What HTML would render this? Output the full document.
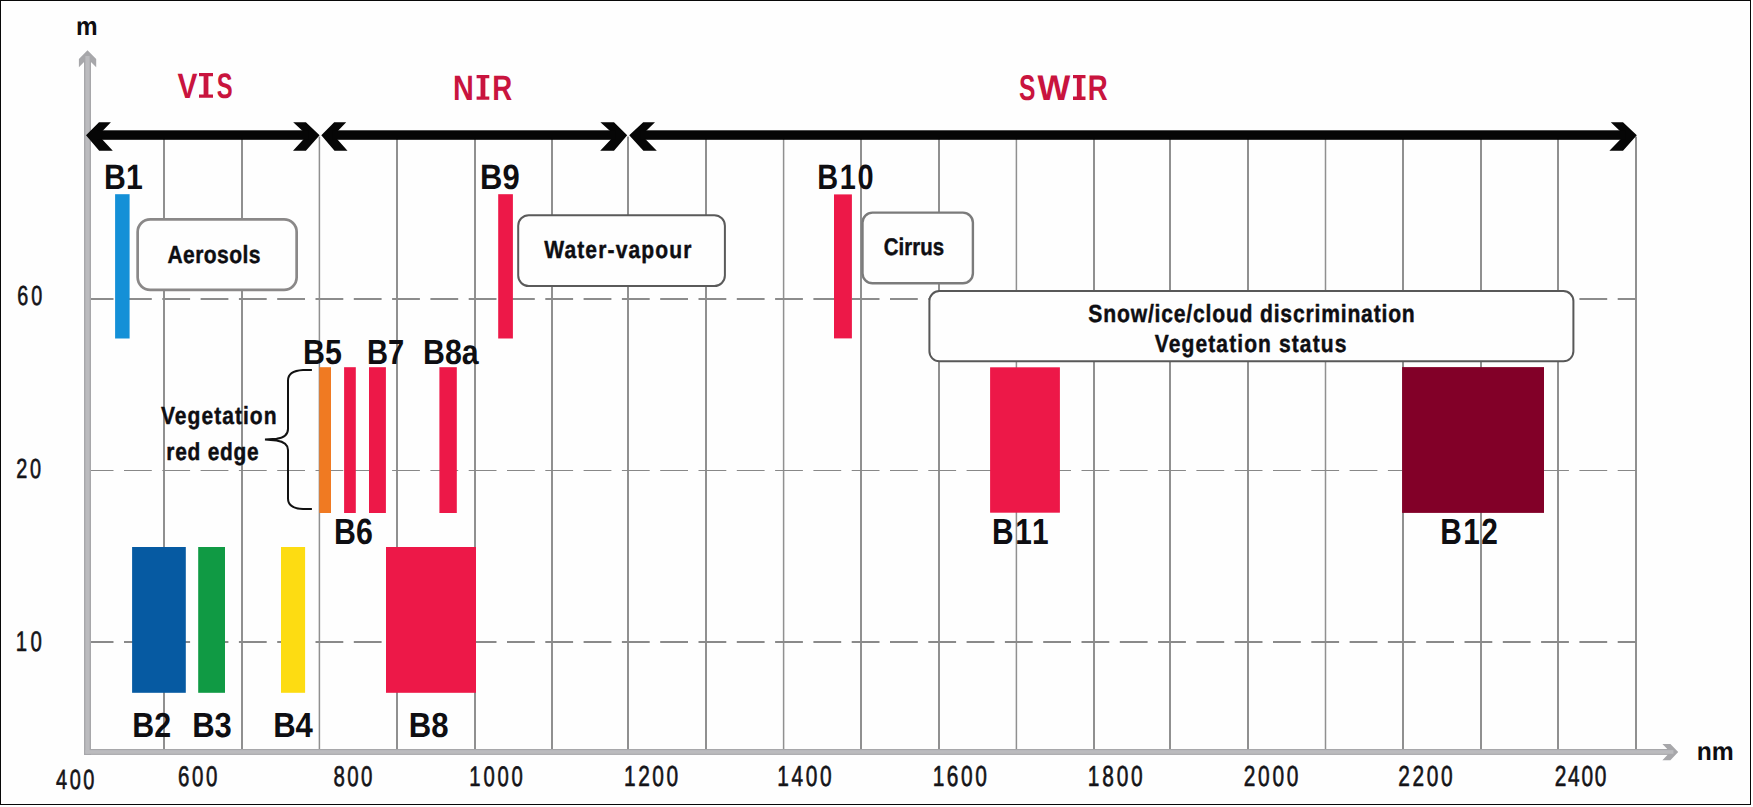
<!DOCTYPE html>
<html lang="en"><head><meta charset="utf-8"><title>Sentinel-2 spectral bands</title>
<style>html,body{margin:0;padding:0;background:#fff;}body{width:1753px;height:807px;overflow:hidden;position:relative;font-family:"Liberation Sans", sans-serif;}</style></head>
<body>
<svg width="1753" height="807" viewBox="0 0 1753 807" style="position:absolute;left:0;top:0;display:block" text-rendering="geometricPrecision" font-family='"Liberation Sans", sans-serif'>
<rect x="0" y="0" width="1753" height="807" fill="#fff"/>
<rect x="0.5" y="0.5" width="1750" height="804" fill="#fefefe" stroke="#080808" stroke-width="1.1" shape-rendering="crispEdges"/>
<g fill="#909090">
<rect x="163" y="136.6" width="2" height="613.4"/>
<rect x="241" y="136.6" width="2" height="613.4"/>
<rect x="318.65" y="136.6" width="1.5" height="613.4"/>
<rect x="396" y="136.6" width="2" height="613.4"/>
<rect x="474" y="136.6" width="2" height="613.4"/>
<rect x="551" y="136.6" width="2" height="613.4"/>
<rect x="627" y="136.6" width="2" height="613.4"/>
<rect x="705" y="136.6" width="2" height="613.4"/>
<rect x="782.85" y="136.6" width="1.5" height="613.4"/>
<rect x="860" y="136.6" width="2" height="613.4"/>
<rect x="938" y="136.6" width="2" height="613.4"/>
<rect x="1015.65" y="136.6" width="1.5" height="613.4"/>
<rect x="1093" y="136.6" width="2" height="613.4"/>
<rect x="1169" y="136.6" width="2" height="613.4"/>
<rect x="1247" y="136.6" width="2" height="613.4"/>
<rect x="1324.75" y="136.6" width="1.5" height="613.4"/>
<rect x="1402" y="136.6" width="2" height="613.4"/>
<rect x="1480" y="136.6" width="2" height="613.4"/>
<rect x="1557" y="136.6" width="2" height="613.4"/>
<rect x="1635" y="136.6" width="2" height="613.4"/>
</g>
<line x1="85.7" y1="299.0" x2="1636" y2="299.0" stroke="#8c8c8c" stroke-width="2" stroke-dasharray="27.8 10.5"/>
<line x1="85.7" y1="470.55" x2="1636" y2="470.55" stroke="#888888" stroke-width="1.1" stroke-dasharray="27.8 10.5"/>
<line x1="85.7" y1="642.0" x2="1636" y2="642.0" stroke="#8a8a8a" stroke-width="2" stroke-dasharray="27.8 10.5"/>
<g fill="#a7a7aa">
<rect x="84" y="54" width="7" height="700.9"/>
<rect x="84" y="749" width="1590" height="5.9"/>
<polygon points="87.5,50.2 96.2,59 96.2,67.2 87.5,58.6 78.9,67.2 78.9,59"/>
<polygon points="1678.2,752 1670.4,744 1662.4,744 1670.2,752 1662.4,760.3 1670.4,760.3"/>
</g>
<g fill="#bbbbbe">
<rect x="85.4" y="56" width="4.2" height="697.6"/>
<rect x="85.4" y="750.1" width="1588" height="3.7"/>
</g>
<rect x="115.1" y="194.2" width="14.50" height="144.30" fill="#1490d7"/>
<rect x="498.2" y="194.2" width="14.70" height="144.30" fill="#ed1848"/>
<rect x="834.0" y="194.4" width="17.90" height="144.00" fill="#ed1848"/>
<rect x="319.3" y="367.2" width="11.70" height="145.80" fill="#f07a22"/>
<rect x="344.1" y="367.2" width="11.70" height="145.80" fill="#ed1848"/>
<rect x="369.0" y="367.2" width="16.90" height="145.80" fill="#ed1848"/>
<rect x="439.4" y="367.2" width="17.40" height="145.80" fill="#ed1848"/>
<rect x="990.1" y="367.3" width="69.80" height="145.40" fill="#ed1848"/>
<rect x="1402.1" y="367.1" width="141.90" height="145.80" fill="#820028"/>
<rect x="132.1" y="547.0" width="53.70" height="145.80" fill="#065aa2"/>
<rect x="198.2" y="547.0" width="26.80" height="145.80" fill="#109a44"/>
<rect x="281.0" y="547.0" width="24.10" height="145.80" fill="#fddc12"/>
<rect x="386.0" y="547.0" width="90.00" height="145.80" fill="#ed1848"/>
<rect x="137.65" y="219.35" width="159.00" height="70.60" rx="12.6" ry="12.6" fill="#fefefe" stroke="#8a8888" stroke-width="2.7"/>
<rect x="518.20" y="215.20" width="206.70" height="70.80" rx="10.5" ry="10.5" fill="#fefefe" stroke="#5a5a5a" stroke-width="2.0"/>
<rect x="862.50" y="212.60" width="110.40" height="70.70" rx="10.0" ry="10.0" fill="#fefefe" stroke="#7b7b7b" stroke-width="2.4"/>
<rect x="929.40" y="291.00" width="644.00" height="70.30" rx="10.0" ry="10.0" fill="#fefefe" stroke="#585858" stroke-width="2.0"/>
<path d="M311.9,369.9 L303,369.9 C294,370.4 288,373.5 288,380.5 L288,429 C288,434.5 285,437.6 276.5,438.8 L265,439.6 L276.5,440.5 C285,441.8 288,445 288,450 L288,498.5 C288,505.5 294,508.6 303,509.1 L311.9,509.1" fill="none" stroke="#111" stroke-width="2"/>
<g fill="#060606">
<polygon points="86.0,135.3 99.0,122.2 110.9,122.2 98.4,135.3 112.8,150.8 99.2,150.8"/>
<polygon points="319.6,135.3 305.9,122.2 293.2,122.2 307.2,135.3 293.0,150.8 305.9,150.8"/>
<polygon points="321.3,135.3 334.2,122.2 346.2,122.2 333.7,135.3 347.5,150.8 334.5,150.8"/>
<polygon points="627.2,135.3 614.0,122.2 600.4,122.2 614.8,135.3 600.2,150.8 614.0,150.8"/>
<polygon points="629.2,135.3 643.2,122.2 655.0,122.2 641.6,135.3 656.8,150.8 643.4,150.8"/>
<polygon points="1636.8,135.3 1623.0,122.2 1610.8,122.2 1624.4,135.3 1609.4,150.8 1623.0,150.8"/>
<rect x="97.5" y="130.3" width="210.6" height="9.5"/>
<rect x="332.8" y="130.3" width="282.9" height="9.5"/>
<rect x="640.7" y="130.3" width="984.6" height="9.5"/>
</g>
<text transform="translate(75.88,34.70) scale(0.9421,1)" font-size="25.79" font-weight="bold" fill="#0e0e12">m</text>
<text transform="translate(1696.76,760.00) scale(0.9720,1)" font-size="25.41" font-weight="bold" fill="#0e0e12">nm</text>
<text transform="translate(104.11,188.90) scale(0.8570,1)" font-size="35.27" font-weight="bold" fill="#0e0e12">B1</text>
<text transform="translate(480.06,188.90) scale(0.8785,1)" font-size="35.27" font-weight="bold" fill="#0e0e12">B9</text>
<text transform="translate(817.19,188.90) scale(0.8200,1)" font-size="35.27" font-weight="bold" fill="#0e0e12" letter-spacing="2.087">B10</text>
<text transform="translate(303.00,363.70) scale(0.8688,1)" font-size="34.99" font-weight="bold" fill="#0e0e12">B5</text>
<text transform="translate(366.88,363.70) scale(0.8317,1)" font-size="34.99" font-weight="bold" fill="#0e0e12">B7</text>
<text transform="translate(423.11,363.70) scale(0.8663,1)" font-size="34.99" font-weight="bold" fill="#0e0e12">B8a</text>
<text transform="translate(334.11,543.70) scale(0.8326,1)" font-size="36.41" font-weight="bold" fill="#0e0e12">B6</text>
<text transform="translate(992.03,543.70) scale(0.8200,1)" font-size="36.41" font-weight="bold" fill="#0e0e12" letter-spacing="2.127">B11</text>
<text transform="translate(1440.13,543.70) scale(0.8200,1)" font-size="36.41" font-weight="bold" fill="#0e0e12" letter-spacing="1.854">B12</text>
<text transform="translate(132.30,736.70) scale(0.8724,1)" font-size="34.84" font-weight="bold" fill="#0e0e12">B2</text>
<text transform="translate(192.26,736.70) scale(0.8892,1)" font-size="34.84" font-weight="bold" fill="#0e0e12">B3</text>
<text transform="translate(273.16,736.70) scale(0.8923,1)" font-size="34.84" font-weight="bold" fill="#0e0e12">B4</text>
<text transform="translate(408.65,736.70) scale(0.8940,1)" font-size="34.84" font-weight="bold" fill="#0e0e12">B8</text>
<text transform="translate(17.31,304.60) scale(0.7200,1)" font-size="27.45" font-weight="normal" fill="#141418" stroke="#141418" stroke-width="0.65" stroke-linejoin="round" letter-spacing="3.983">60</text>
<text transform="translate(16.20,477.70) scale(0.7200,1)" font-size="27.59" font-weight="normal" fill="#141418" stroke="#141418" stroke-width="0.65" stroke-linejoin="round" letter-spacing="3.974">20</text>
<text transform="translate(15.76,650.90) scale(0.7200,1)" font-size="28.30" font-weight="normal" fill="#141418" stroke="#141418" stroke-width="0.65" stroke-linejoin="round" letter-spacing="4.649">10</text>
<text transform="translate(55.92,788.70) scale(0.7200,1)" font-size="27.73" font-weight="normal" fill="#141418" stroke="#141418" stroke-width="0.65" stroke-linejoin="round" letter-spacing="3.629">400</text>
<text transform="translate(178.07,785.60) scale(0.7200,1)" font-size="28.44" font-weight="normal" fill="#141418" stroke="#141418" stroke-width="0.65" stroke-linejoin="round" letter-spacing="3.494">600</text>
<text transform="translate(333.39,785.60) scale(0.7200,1)" font-size="28.44" font-weight="normal" fill="#141418" stroke="#141418" stroke-width="0.65" stroke-linejoin="round" letter-spacing="3.272">800</text>
<text transform="translate(469.37,785.60) scale(0.7200,1)" font-size="28.16" font-weight="normal" fill="#141418" stroke="#141418" stroke-width="0.65" stroke-linejoin="round" letter-spacing="3.796">1000</text>
<text transform="translate(624.03,785.80) scale(0.7200,1)" font-size="29.01" font-weight="normal" fill="#141418" stroke="#141418" stroke-width="0.65" stroke-linejoin="round" letter-spacing="3.512">1200</text>
<text transform="translate(777.13,785.80) scale(0.7200,1)" font-size="29.01" font-weight="normal" fill="#141418" stroke="#141418" stroke-width="0.65" stroke-linejoin="round" letter-spacing="3.744">1400</text>
<text transform="translate(932.73,785.80) scale(0.7200,1)" font-size="29.01" font-weight="normal" fill="#141418" stroke="#141418" stroke-width="0.65" stroke-linejoin="round" letter-spacing="3.512">1600</text>
<text transform="translate(1087.83,785.80) scale(0.7200,1)" font-size="29.01" font-weight="normal" fill="#141418" stroke="#141418" stroke-width="0.65" stroke-linejoin="round" letter-spacing="3.883">1800</text>
<text transform="translate(1243.85,785.80) scale(0.7200,1)" font-size="29.01" font-weight="normal" fill="#141418" stroke="#141418" stroke-width="0.65" stroke-linejoin="round" letter-spacing="3.685">2000</text>
<text transform="translate(1398.15,785.80) scale(0.7200,1)" font-size="29.01" font-weight="normal" fill="#141418" stroke="#141418" stroke-width="0.65" stroke-linejoin="round" letter-spacing="3.732">2200</text>
<text transform="translate(1554.65,785.70) scale(0.7200,1)" font-size="29.01" font-weight="normal" fill="#141418" stroke="#141418" stroke-width="0.65" stroke-linejoin="round" letter-spacing="2.482">2400</text>
<text transform="translate(167.46,262.80) scale(0.8500,1)" font-size="24.75" font-weight="bold" fill="#0e0e12" stroke="#0e0e12" stroke-width="0.45" stroke-linejoin="round" letter-spacing="0.485">Aerosols</text>
<text transform="translate(544.19,257.90) scale(0.8500,1)" font-size="24.75" font-weight="bold" fill="#0e0e12" stroke="#0e0e12" stroke-width="0.45" stroke-linejoin="round" letter-spacing="1.328">Water-vapour</text>
<text transform="translate(883.65,255.30) scale(0.8500,1)" font-size="24.04" font-weight="bold" fill="#0e0e12" stroke="#0e0e12" stroke-width="0.45" stroke-linejoin="round" letter-spacing="0.097">Cirrus</text>
<text transform="translate(1088.36,321.70) scale(0.8500,1)" font-size="24.89" font-weight="bold" fill="#0e0e12" stroke="#0e0e12" stroke-width="0.45" stroke-linejoin="round" letter-spacing="0.929">Snow/ice/cloud discrimination</text>
<text transform="translate(1154.79,351.70) scale(0.8500,1)" font-size="24.75" font-weight="bold" fill="#0e0e12" stroke="#0e0e12" stroke-width="0.45" stroke-linejoin="round" letter-spacing="1.280">Vegetation status</text>
<text transform="translate(160.89,423.80) scale(0.8500,1)" font-size="24.75" font-weight="bold" fill="#0e0e12" stroke="#0e0e12" stroke-width="0.45" stroke-linejoin="round" letter-spacing="1.212">Vegetation</text>
<text transform="translate(166.28,459.60) scale(0.8500,1)" font-size="24.60" font-weight="bold" fill="#0e0e12" stroke="#0e0e12" stroke-width="0.45" stroke-linejoin="round" letter-spacing="0.887">red edge</text>
<g fill="#c9143e" font-size="100" font-weight="bold">
<text transform="translate(177.40,97.80) scale(0.2992,0.3541)">V</text>
<text transform="translate(216.63,97.55) scale(0.2384,0.3548)">S</text>
<text transform="translate(453.10,99.80) scale(0.2880,0.3541)">N</text>
<text transform="translate(492.17,99.80) scale(0.2763,0.3541)">R</text>
<text transform="translate(1019.01,99.74) scale(0.2464,0.3562)">S</text>
<text transform="translate(1037.60,100.00) scale(0.3473,0.3570)">W</text>
<text transform="translate(1087.77,100.00) scale(0.2763,0.3570)">R</text>
<path d="M199.0,72.9H213.0V76.3H208.40V94.4H213.0V97.8H199.0V94.4H203.60V76.3H199.0Z"/>
<path d="M476.6,74.9H489.3V78.3H485.35V96.4H489.3V99.8H476.6V96.4H480.55V78.3H476.6Z"/>
<path d="M1073.0,74.9H1085.5V78.3H1081.65V96.6H1085.5V100.0H1073.0V96.6H1076.85V78.3H1073.0Z"/>
</g>
</svg>
</body></html>
